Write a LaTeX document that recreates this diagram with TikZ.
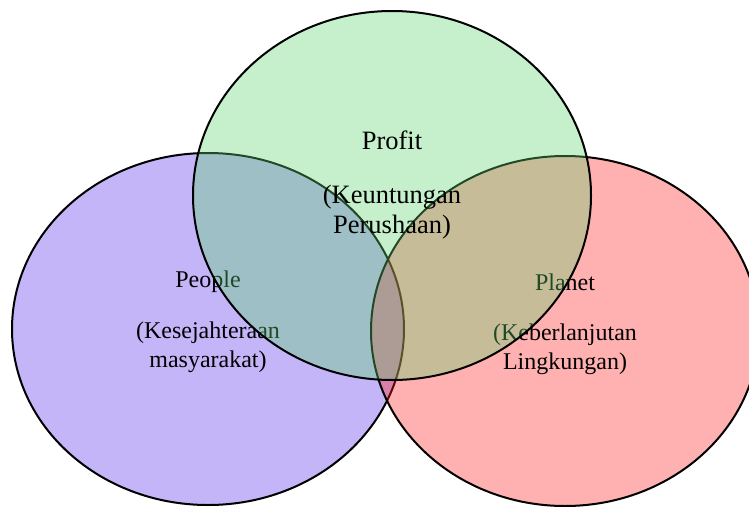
\documentclass[tikz,border=0pt]{standalone}
\usepackage{fontspec}
\setmainfont{Liberation Serif}
\definecolor{vpurple}{RGB}{86,41,235}
\definecolor{vred}{RGB}{255,30,30}
\definecolor{vgreen}{RGB}{92,212,109}
\tikzset{
  venn/.style={draw=black, line width=2pt, fill opacity=0.35},
  lbl/.style={anchor=base, inner sep=0pt, font=\fontsize{24}{29}\selectfont, text=black},
  biglbl/.style={lbl, font=\fontsize{26.5}{31}\selectfont}
}
\begin{document}
\begin{tikzpicture}[x=1pt,y=-1pt]
\useasboundingbox (0,0) rectangle (749,506);
\clip (0,0) rectangle (749,506);
% People (purple) and Planet (red)
\draw[venn, fill=vpurple] (208,329) ellipse [x radius=196pt, y radius=176pt];
\draw[venn, fill=vred] (565,331) ellipse [x radius=194pt, y radius=175pt];
\node[lbl] (peopleA) at (208,287) {People};
\node[lbl] (peopleB) at (208,338) {(Kesejahteraan};
\node[lbl] (peopleC) at (208,367) {masyarakat)};
\node[lbl] (planetA) at (565,290) {Planet};
\node[lbl] (planetB) at (565,340) {(Keberlanjutan};
\node[lbl] (planetC) at (565,369) {Lingkungan)};
% Profit (green) on top
\draw[venn, fill=vgreen] (392,195.5) ellipse [x radius=199pt, y radius=184.5pt];
\node[biglbl] (profitA) at (392,149) {Profit};
\node[biglbl] (profitB) at (392,203) {(Keuntungan};
\node[biglbl] (profitC) at (392,233) {Perushaan)};
\end{tikzpicture}
\end{document}
